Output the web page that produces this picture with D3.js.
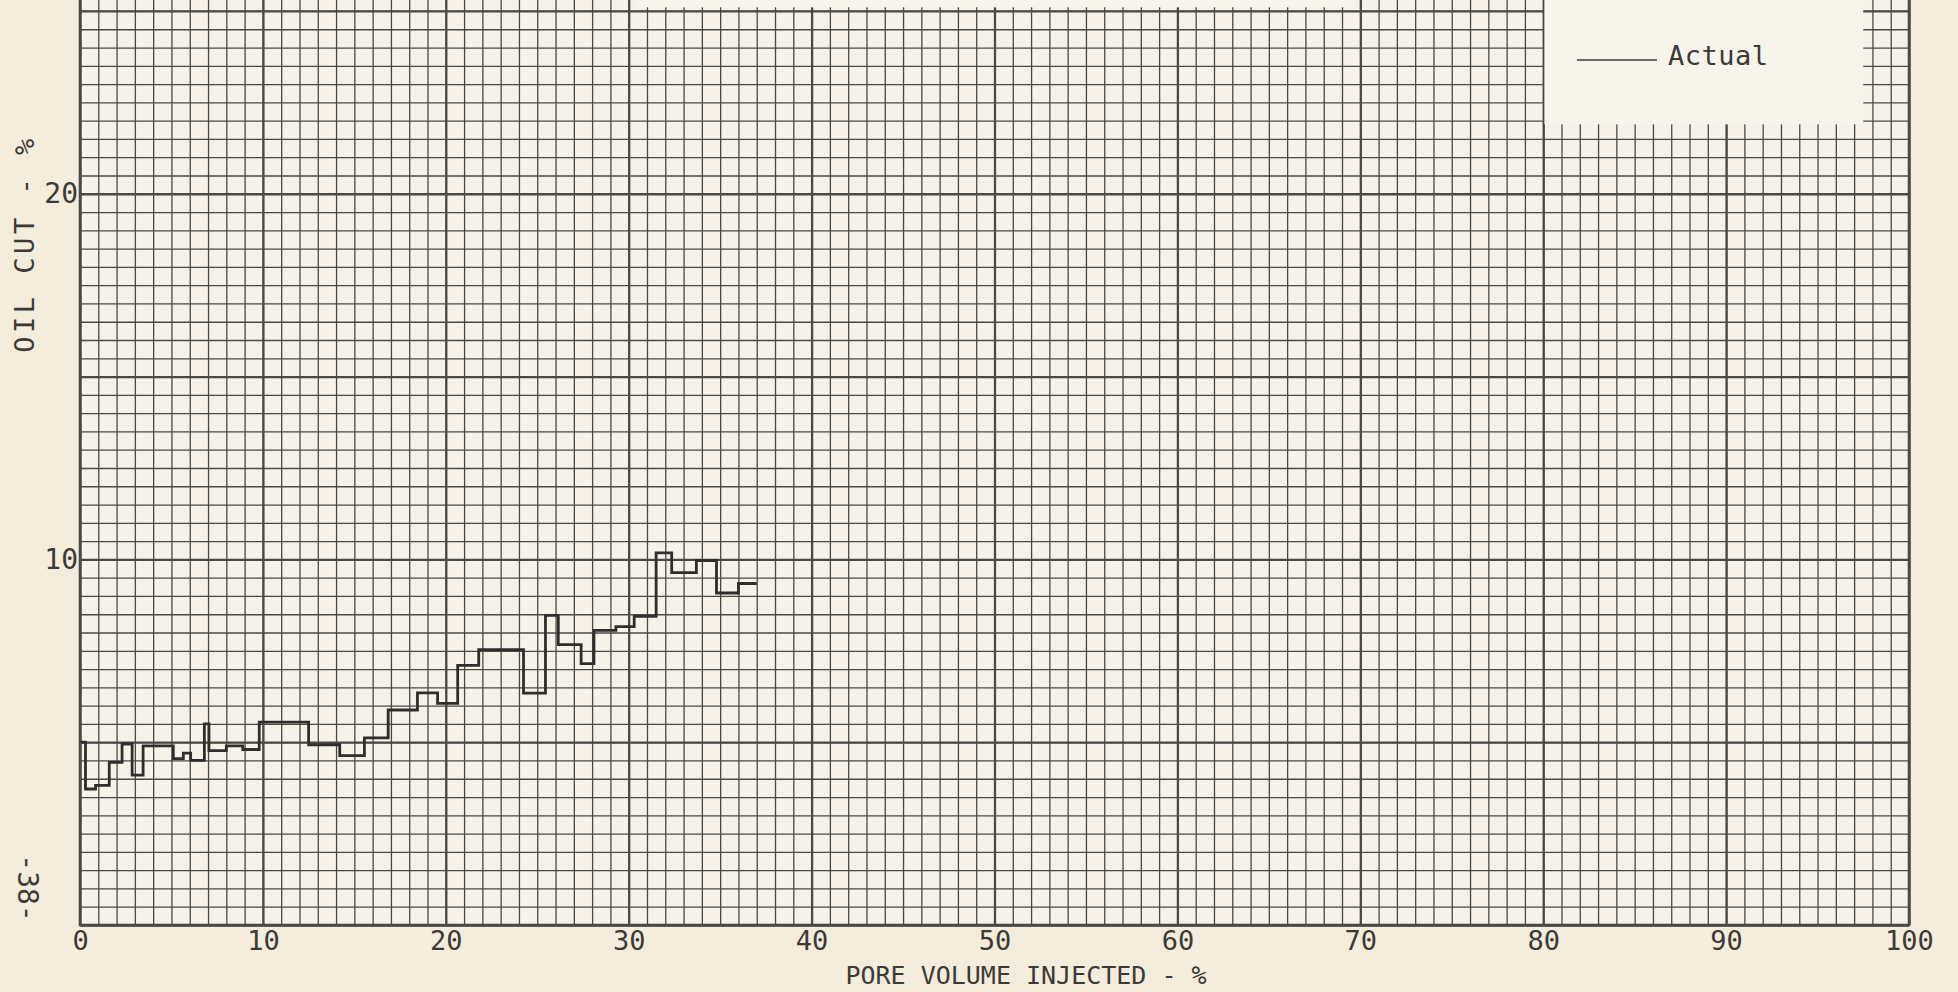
<!DOCTYPE html>
<html>
<head>
<meta charset="utf-8">
<script src="https://cdn.jsdelivr.net/npm/d3@7"></script>
<style>
  html, body { margin: 0; padding: 0; background: #f4ecdc; }
  svg { display: block; }
  text { font-family: "DejaVu Sans Mono", monospace; fill: #3b3a37; }
</style>
</head>
<body>
<svg id="chart" width="1958" height="992"></svg>
<script>
// step boundaries (pore volume injected, %) and the oil cut held over each step
const pvInjected = [0, 0.3, 0.85, 1.6, 2.3, 2.85, 3.45, 5.1, 5.65, 6.05, 6.8, 7.05, 8.0, 8.9, 9.8,
  12.5, 14.2, 15.55, 16.85, 18.45, 19.55, 20.65, 21.8, 24.25, 25.45, 26.15, 27.4, 28.1, 29.3,
  30.3, 31.5, 32.35, 33.7, 34.8, 36.0, 37.0];
const oilCut = [5.0, 3.72, 3.82, 4.45, 4.95, 4.1, 4.9, 4.55, 4.7, 4.5, 5.5, 4.77, 4.9, 4.8, 5.55,
  4.93, 4.63, 5.12, 5.88, 6.35, 6.06, 7.1, 7.53, 6.34, 8.47, 7.67, 7.15, 8.06, 8.16,
  8.44, 10.18, 9.64, 9.97, 9.08, 9.34];

const xTicks = [0, 10, 20, 30, 40, 50, 60, 70, 80, 90, 100];
const yTicks = [10, 20];
const seriesName = "Actual";

const svg = d3.select('#chart');

const x = d3.scaleLinear().domain([0, 100]).range([80, 1909]);
const y = d3.scaleLinear().domain([0, 25.3]).range([925, 0]);

const gridColor = '#4a4946';

// paper inside the plot
svg.append('rect')
  .attr('x', x(0)).attr('y', 0)
  .attr('width', x(100) - x(0)).attr('height', y(0))
  .attr('fill', '#f6f2e9');

// minor grid: 1 % across, 0.5 % up
svg.append('g')
  .attr('transform', `translate(0, ${y(0)})`)
  .call(d3.axisBottom(x).tickValues(d3.range(0, 101, 1)).tickSize(-y(0)).tickFormat(''))
  .call(g => g.select('.domain').remove())
  .call(g => g.selectAll('line').attr('stroke', gridColor).attr('stroke-width', 1.3));

svg.append('g')
  .attr('transform', `translate(${x(0)}, 0)`)
  .call(d3.axisLeft(y).tickValues(d3.range(0, 25.01, 0.5)).tickSize(-(x(100) - x(0))).tickFormat(''))
  .call(g => g.select('.domain').remove())
  .call(g => g.selectAll('line').attr('stroke', gridColor).attr('stroke-width', 1.3));

// major grid
svg.append('g')
  .attr('transform', `translate(0, ${y(0)})`)
  .call(d3.axisBottom(x).tickValues(xTicks).tickSize(-y(0)).tickFormat(''))
  .call(g => g.select('.domain').remove())
  .call(g => g.selectAll('line').attr('stroke', gridColor).attr('stroke-width', 2.3));

svg.append('g')
  .attr('transform', `translate(${x(0)}, 0)`)
  .call(d3.axisLeft(y).tickValues(d3.range(0, 25.01, 5)).tickSize(-(x(100) - x(0))).tickFormat(''))
  .call(g => g.select('.domain').remove())
  .call(g => g.selectAll('line').attr('stroke', gridColor).attr('stroke-width', 2.3));

// blank label strip at the top edge
svg.append('rect')
  .attr('x', x(30.5)).attr('y', 0)
  .attr('width', x(69.7) - x(30.5)).attr('height', y(25.1))
  .attr('fill', '#f7f4ec');

// legend box
svg.append('rect')
  .attr('x', x(80) + 1.2).attr('y', 0)
  .attr('width', x(97.5) - x(80) - 1.2).attr('height', y(21.9))
  .attr('fill', '#f7f4ec');

svg.append('line')
  .attr('x1', 1577).attr('x2', 1657).attr('y1', 60).attr('y2', 60)
  .attr('stroke', '#3b3a37').attr('stroke-width', 1.6);

svg.append('text')
  .attr('x', 1668).attr('y', 65)
  .attr('font-size', 27)
  .attr('letter-spacing', 0.5)
  .text(seriesName);

// the step trace
const pts = oilCut.map((v, i) => [pvInjected[i], v]);
pts.push([pvInjected[pvInjected.length - 1], oilCut[oilCut.length - 1]]);

svg.append('path')
  .datum(pts)
  .attr('fill', 'none')
  .attr('stroke', '#2f2e2c')
  .attr('stroke-width', 2.8)
  .attr('stroke-linejoin', 'miter')
  .attr('d', d3.line().x(d => x(d[0])).y(d => y(d[1])).curve(d3.curveStepAfter));

// frame: left, bottom, right
svg.append('path')
  .attr('d', `M${x(0)},0V${y(0)}H${x(100)}V0`)
  .attr('fill', 'none')
  .attr('stroke', gridColor)
  .attr('stroke-width', 2.6);

// tick labels
svg.append('g')
  .attr('transform', `translate(0, ${y(0)})`)
  .call(d3.axisBottom(x).tickValues(xTicks).tickSize(0).tickPadding(6))
  .call(g => g.select('.domain').remove())
  .call(g => g.selectAll('text').attr('font-size', 27).attr('font-family', '"DejaVu Sans Mono", monospace').attr('fill', '#3b3a37'));

svg.append('g')
  .attr('transform', `translate(${x(0)}, 0)`)
  .call(d3.axisLeft(y).tickValues(yTicks).tickSize(0).tickPadding(2))
  .call(g => g.select('.domain').remove())
  .call(g => g.selectAll('text').attr('font-size', 28).attr('font-family', '"DejaVu Sans Mono", monospace').attr('fill', '#3b3a37'));

// axis titles
svg.append('text')
  .attr('x', 1026).attr('y', 984)
  .attr('text-anchor', 'middle')
  .attr('font-size', 25)
  .text('PORE VOLUME INJECTED - %');

svg.append('text')
  .attr('transform', 'translate(34, 244) rotate(-90)')
  .attr('text-anchor', 'middle')
  .attr('font-size', 27)
  .attr('letter-spacing', 3.5)
  .text('OIL CUT - %');

// page number
svg.append('text')
  .attr('transform', 'translate(18, 888) rotate(90)')
  .attr('text-anchor', 'middle')
  .attr('font-size', 28)
  .text('-38-');
</script>
</body>
</html>
